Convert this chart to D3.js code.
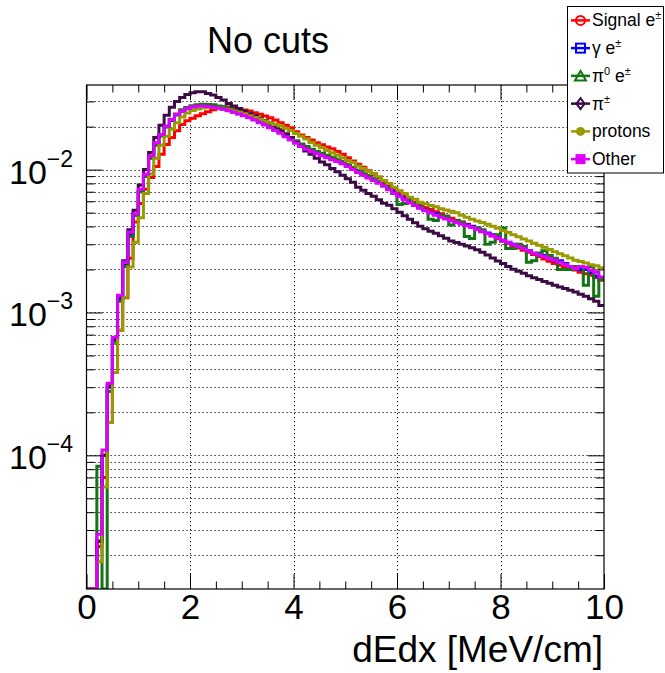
<!DOCTYPE html>
<html>
<head>
<meta charset="utf-8">
<script src="https://cdn.jsdelivr.net/npm/d3@7"></script>
<style>
  body { margin: 0; background: #fff; }
  svg { display: block; font-family: "Liberation Sans", Arial, Helvetica, sans-serif; }
</style>
</head>
<body>
<div id="board"></div>
<script>
// histogram binning: 100 bins of 0.1 MeV/cm from 0 to 10
var xMin = 0, xMax = 10, binWidth = 0.1;
var yMin = 1.16e-5, yMax = 0.0391;

var xMajor = [0, 2, 4, 6, 8, 10];
var xGrid = [2, 4, 6, 8];
var yMajor = [1e-2, 1e-3, 1e-4];
var yExponents = ["\u22122", "\u22123", "\u22124"];

// values, one per bin
var signal = [0, 0, 2.3e-5, 7e-5, 1.7e-4, 3.8e-4, 7.5e-4, 1.27e-3, 2.4e-3, 4.3e-3,
  5.8e-3, 7.3e-3, 8.8e-3, 0.0105, 0.0128, 0.0150, 0.0168, 0.0187, 0.0207, 0.0220,
  0.0229, 0.0238, 0.0246, 0.0254, 0.0262, 0.0270, 0.0273, 0.0274, 0.0271, 0.0265,
  0.0261, 0.0257, 0.0250, 0.0244, 0.0237, 0.0231, 0.0222, 0.0213, 0.0204, 0.0196,
  0.0184, 0.0175, 0.0168, 0.0161, 0.0154, 0.0149, 0.0144, 0.0140, 0.0134, 0.0128,
  0.0121, 0.0115, 0.0109, 0.0104, 0.0098, 0.00927, 0.00876, 0.00822, 0.00769, 0.00722,
  0.00683, 0.00648, 0.00615, 0.00586, 0.00563, 0.00543, 0.00525, 0.00507, 0.00490, 0.00473,
  0.00457, 0.00442, 0.00428, 0.00414, 0.00401, 0.00386, 0.00370, 0.00357, 0.00343, 0.00328,
  0.00315, 0.00305, 0.00294, 0.00284, 0.00273, 0.00264, 0.00255, 0.00246, 0.00237, 0.00228,
  0.00220, 0.00214, 0.00208, 0.00202, 0.00198, 0.00191, 0.00187, 0.00182, 0.00176, 0.00168];

var gammaE = [0, 0, 2.5e-5, 1.0e-4, 3.0e-4, 6.4e-4, 1.25e-3, 2.15e-3, 3.5e-3, 4.8e-3,
  7.0e-3, 9.0e-3, 0.0121, 0.0150, 0.0173, 0.0199, 0.0221, 0.0241, 0.0256, 0.0267,
  0.0274, 0.0278, 0.0280, 0.0278, 0.0275, 0.0271, 0.0266, 0.0260, 0.0253, 0.0246,
  0.0239, 0.0232, 0.0224, 0.0216, 0.0208, 0.0199, 0.0191, 0.0182, 0.0173, 0.0164,
  0.0156, 0.0148, 0.0142, 0.0137, 0.0132, 0.0128, 0.0124, 0.0120, 0.0116, 0.0112,
  0.0107, 0.0102, 0.0098, 0.0094, 0.0090, 0.0086, 0.0082, 0.0078, 0.0074, 0.0070,
  0.0066, 0.0063, 0.0060, 0.0057, 0.0054, 0.0052, 0.0050, 0.0049, 0.0047, 0.0046,
  0.0044, 0.0043, 0.0042, 0.0041, 0.0040, 0.0039, 0.0037, 0.0036, 0.0035, 0.0034,
  0.0032, 0.0031, 0.0030, 0.0029, 0.0028, 0.0027, 0.0026, 0.0026, 0.0025, 0.0024,
  0.0023, 0.0023, 0.0022, 0.0021, 0.0021, 0.0020, 0.0020, 0.0019, 0.0018, 0.0017];

var pi0E = [0, 0, 8.4e-5, 0, 2.8e-4, 6.2e-4, 1.2e-3, 2.1e-3, 3.4e-3, 4.8e-3,
  7.0e-3, 9.0e-3, 0.0120, 0.0148, 0.0172, 0.0200, 0.0225, 0.0245, 0.0262, 0.0272,
  0.0280, 0.0284, 0.0287, 0.0286, 0.0284, 0.0279, 0.0275, 0.0268, 0.0262, 0.0256,
  0.0249, 0.0240, 0.0232, 0.0223, 0.0214, 0.0203, 0.0195, 0.0188, 0.0177, 0.0168,
  0.0159, 0.0151, 0.0145, 0.0139, 0.0134, 0.0130, 0.0126, 0.0122, 0.0118, 0.0114,
  0.0109, 0.0104, 0.0099, 0.0095, 0.0091, 0.0087, 0.0083, 0.0079, 0.0075, 0.0068,
  0.0057, 0.0058, 0.0062, 0.0058, 0.0055, 0.0052, 0.0045, 0.0044, 0.0048, 0.0047,
  0.0041, 0.0044, 0.0043, 0.0034, 0.0033, 0.0039, 0.0038, 0.0030, 0.0031, 0.0035,
  0.0039, 0.0028, 0.0028, 0.0030, 0.0029, 0.00225, 0.00230, 0.0026, 0.0027, 0.0025,
  0.0024, 0.0020, 0.0020, 0.0020, 0.0021, 0.0021, 0.00155, 0.0021, 0.0013, 0.0017];

var piCharged = [0, 0, 2.5e-5, 1.0e-4, 3.1e-4, 6.6e-4, 1.3e-3, 2.3e-3, 3.8e-3, 5.2e-3,
  7.8e-3, 0.0100, 0.0132, 0.0168, 0.0204, 0.0240, 0.0273, 0.0300, 0.0320, 0.0336,
  0.0345, 0.0350, 0.0350, 0.0341, 0.0333, 0.0320, 0.0307, 0.0290, 0.0279, 0.0268,
  0.0256, 0.0246, 0.0238, 0.0230, 0.0221, 0.0213, 0.0201, 0.0190, 0.0178, 0.0167,
  0.0155, 0.0145, 0.0135, 0.0128, 0.0120, 0.0113, 0.0108, 0.0102, 0.00965, 0.00912,
  0.00862, 0.00815, 0.00752, 0.00717, 0.00680, 0.00650, 0.00615, 0.00582, 0.00563, 0.00532,
  0.00503, 0.00475, 0.00449, 0.00424, 0.00401, 0.00385, 0.00371, 0.00358, 0.00345, 0.00331,
  0.00317, 0.00309, 0.00300, 0.00292, 0.00284, 0.00275, 0.00264, 0.00253, 0.00241, 0.00229,
  0.00220, 0.00210, 0.00201, 0.00194, 0.00188, 0.00181, 0.00175, 0.00170, 0.00165, 0.00160,
  0.00155, 0.00151, 0.00147, 0.00143, 0.00139, 0.00134, 0.00130, 0.00125, 0.00120, 0.00112];

var protons = [0, 0, 1.8e-5, 6e-5, 1.7e-4, 3.8e-4, 7.5e-4, 1.28e-3, 2.08e-3, 3.1e-3,
  4.6e-3, 6.8e-3, 9.3e-3, 0.0120, 0.0148, 0.0171, 0.0192, 0.0213, 0.0233, 0.0249,
  0.0259, 0.0266, 0.0270, 0.0272, 0.0272, 0.0270, 0.0266, 0.0262, 0.0257, 0.0252,
  0.0246, 0.0238, 0.0232, 0.0226, 0.0219, 0.0213, 0.0207, 0.0202, 0.0195, 0.0187,
  0.0179, 0.0171, 0.0164, 0.0155, 0.0148, 0.0142, 0.0136, 0.0131, 0.0126, 0.0121,
  0.0116, 0.0112, 0.0106, 0.0102, 0.0097, 0.0094, 0.0089, 0.0084, 0.0080, 0.0075,
  0.0071, 0.0068, 0.0064, 0.0062, 0.0059, 0.0058, 0.0056, 0.0055, 0.00532, 0.00522,
  0.00511, 0.00499, 0.00479, 0.00464, 0.00449, 0.00437, 0.00426, 0.00415, 0.00401, 0.00389,
  0.00375, 0.00363, 0.00350, 0.00339, 0.00327, 0.00316, 0.00305, 0.00296, 0.00286, 0.00276,
  0.00266, 0.00258, 0.00249, 0.00241, 0.00232, 0.00227, 0.00222, 0.00216, 0.00212, 0.00206];

var other = [0, 0, 2.8e-5, 1.09e-4, 3.2e-4, 6.7e-4, 1.32e-3, 2.26e-3, 3.66e-3, 4.9e-3,
  7.3e-3, 9.3e-3, 0.0125, 0.0154, 0.0176, 0.0202, 0.0224, 0.0243, 0.0257, 0.0268,
  0.0275, 0.0278, 0.0279, 0.0276, 0.0273, 0.0270, 0.0264, 0.0258, 0.0252, 0.0245,
  0.0238, 0.0231, 0.0222, 0.0213, 0.0205, 0.0196, 0.0188, 0.0180, 0.0170, 0.0161,
  0.0153, 0.0145, 0.0139, 0.0134, 0.0129, 0.0125, 0.0121, 0.0117, 0.0114, 0.0110,
  0.0105, 0.0100, 0.00954, 0.00912, 0.00875, 0.00839, 0.00804, 0.00764, 0.00722, 0.00683,
  0.00647, 0.00615, 0.00586, 0.00560, 0.00537, 0.00516, 0.00497, 0.00479, 0.00464, 0.00451,
  0.00439, 0.00427, 0.00415, 0.00405, 0.00393, 0.00381, 0.00367, 0.00355, 0.00344, 0.00333,
  0.00320, 0.00309, 0.00298, 0.00289, 0.00280, 0.00269, 0.00260, 0.00253, 0.00246, 0.00239,
  0.00232, 0.00225, 0.00217, 0.00210, 0.00203, 0.00210, 0.00207, 0.00198, 0.00191, 0.00177];

// drawing order as in the original (last one on top)
var series = [
  {values: signal,    color: "#ff0000", marker: "circle",   label: [["Signal e", 0], ["\u00b1", 1]]},
  {values: gammaE,    color: "#0000ff", marker: "square",   label: [["\u03b3 e", 0], ["\u00b1", 1]]},
  {values: pi0E,      color: "#137513", marker: "triangle", label: [["\u03c0", 0], ["0", 1], [" e", 0], ["\u00b1", 1]]},
  {values: piCharged, color: "#3b0b45", marker: "diamond",  label: [["\u03c0", 0], ["\u00b1", 1]]},
  {values: protons,   color: "#999900", marker: "dot",      label: [["protons", 0]]},
  {values: other,     color: "#dd00ff", marker: "box",      label: [["Other", 0]]}
];

var W = 665, H = 673;
var plotL = 86.5, plotR = 604, plotT = 85, plotB = 589;

var svg = d3.select("#board").append("svg")
    .attr("width", W)
    .attr("height", H);

var x = d3.scaleLinear().domain([xMin, xMax]).range([plotL, plotR]);
var y = d3.scaleLog().domain([yMin, yMax]).range([plotB, plotT]);

// minor ticks
var xMinor = d3.range(xMin, xMax + 0.001, 0.5).filter(function(d){ return xMajor.indexOf(d) < 0; });
var yMinor = [];
[1e-5, 1e-4, 1e-3, 1e-2].forEach(function(dec){
    for (var m = 2; m <= 9; m++) {
        var v = m * dec;
        if (v > yMin && v < yMax) yMinor.push(v);
    }
});

// grid
var grid = svg.append("g")
    .attr("stroke", "#000")
    .attr("stroke-width", 1)
    .attr("stroke-dasharray", "1.2,2.8");

grid.selectAll(".gy").data(yMajor.concat(yMinor)).enter().append("line")
    .attr("x1", plotL).attr("x2", plotR)
    .attr("y1", function(d){ return Math.round(y(d)) + 0.5; })
    .attr("y2", function(d){ return Math.round(y(d)) + 0.5; });

grid.selectAll(".gx").data(xGrid).enter().append("line")
    .attr("y1", plotT).attr("y2", plotB)
    .attr("x1", function(d){ return Math.round(x(d)) + 0.5; })
    .attr("x2", function(d){ return Math.round(x(d)) + 0.5; });

// histograms
svg.append("clipPath").attr("id", "plotclip")
  .append("rect")
    .attr("x", plotL).attr("y", plotT)
    .attr("width", plotR - plotL).attr("height", plotB - plotT);

var step = d3.line()
    .x(function(d){ return x(d[0]); })
    .y(function(d){ return y(Math.max(d[1], yMin)); })
    .curve(d3.curveStepAfter);

var hists = svg.append("g").attr("clip-path", "url(#plotclip)");
series.forEach(function(s){
    var pts = s.values.map(function(v, i){ return [xMin + i * binWidth, v]; });
    pts.push([xMax, s.values[s.values.length - 1]]);
    hists.append("path")
        .attr("d", step(pts))
        .attr("fill", "none")
        .attr("stroke", s.color)
        .attr("stroke-width", 3)
        .attr("stroke-linejoin", "miter");
});

// axes (ticks on all four sides, pointing inward)
function styleAxis(g){
    g.select(".domain").remove();
    g.selectAll(".tick line").attr("stroke", "#000");
}

var bottomAxis = svg.append("g").attr("transform", "translate(0," + plotB + ")")
    .call(d3.axisBottom(x).tickValues(xMajor).tickSize(-15).tickPadding(5).tickFormat(d3.format("d")));
bottomAxis.call(styleAxis);
bottomAxis.selectAll("text").attr("font-size", 35).attr("fill", "#000")
    .attr("font-family", "Liberation Sans, Arial, sans-serif");
svg.append("g").attr("transform", "translate(0," + plotB + ")")
    .call(d3.axisBottom(x).tickValues(xMinor).tickSize(-7.5).tickFormat(""))
    .call(styleAxis);

svg.append("g").attr("transform", "translate(0," + plotT + ")")
    .call(d3.axisTop(x).tickValues(xMajor).tickSize(-15).tickFormat(""))
    .call(styleAxis);
svg.append("g").attr("transform", "translate(0," + plotT + ")")
    .call(d3.axisTop(x).tickValues(xMinor).tickSize(-7.5).tickFormat(""))
    .call(styleAxis);

svg.append("g").attr("transform", "translate(" + plotL + ",0)")
    .call(d3.axisLeft(y).tickValues(yMajor).tickSize(-16).tickFormat(""))
    .call(styleAxis);
svg.append("g").attr("transform", "translate(" + plotL + ",0)")
    .call(d3.axisLeft(y).tickValues(yMinor).tickSize(-8).tickFormat(""))
    .call(styleAxis);
svg.append("g").attr("transform", "translate(" + plotR + ",0)")
    .call(d3.axisRight(y).tickValues(yMajor).tickSize(-16).tickFormat(""))
    .call(styleAxis);
svg.append("g").attr("transform", "translate(" + plotR + ",0)")
    .call(d3.axisRight(y).tickValues(yMinor).tickSize(-8).tickFormat(""))
    .call(styleAxis);

// y labels 10^n
var ylab = svg.append("g").attr("fill", "#000");
yMajor.forEach(function(v, i){
    var t = ylab.append("text")
        .attr("x", 9)
        .attr("y", y(v) + 14)
        .attr("font-size", 34);
    t.append("tspan").text("10");
    t.append("tspan").attr("font-size", 23).attr("dy", -17).text(yExponents[i]);
});

// frame
svg.append("rect")
    .attr("x", plotL).attr("y", plotT)
    .attr("width", plotR - plotL).attr("height", plotB - plotT)
    .attr("fill", "none").attr("stroke", "#000").attr("stroke-width", 1.2);

// titles
svg.append("text")
    .attr("x", 268).attr("y", 53)
    .attr("text-anchor", "middle")
    .attr("font-size", 36)
    .text("No cuts");

svg.append("text")
    .attr("x", 603).attr("y", 662)
    .attr("text-anchor", "end")
    .attr("font-size", 37)
    .text("dEdx [MeV/cm]");

// legend
var lgX = 567.5, lgY = 6.5, lgW = 96, lgH = 166.5;
var rowH = lgH / series.length;
var lg = svg.append("g");
lg.append("rect")
    .attr("x", lgX).attr("y", lgY).attr("width", lgW).attr("height", lgH)
    .attr("fill", "#fff").attr("stroke", "#000").attr("stroke-width", 1);

series.forEach(function(s, i){
    var cy = lgY + rowH * (i + 0.5);
    var cx = 580.5;
    var row = lg.append("g");
    row.append("line")
        .attr("x1", 571).attr("x2", 590)
        .attr("y1", cy).attr("y2", cy)
        .attr("stroke", s.color).attr("stroke-width", 2.5);
    if (s.marker === "circle") {
        row.append("circle").attr("cx", cx).attr("cy", cy).attr("r", 4.5)
            .attr("fill", "none").attr("stroke", s.color).attr("stroke-width", 2);
    } else if (s.marker === "square") {
        row.append("rect").attr("x", cx - 4.5).attr("y", cy - 4.5).attr("width", 9).attr("height", 9)
            .attr("fill", "none").attr("stroke", s.color).attr("stroke-width", 2);
    } else if (s.marker === "triangle") {
        row.append("path").attr("d", "M" + cx + "," + (cy - 5) + "L" + (cx + 5.5) + "," + (cy + 4.5) + "L" + (cx - 5.5) + "," + (cy + 4.5) + "Z")
            .attr("fill", "none").attr("stroke", s.color).attr("stroke-width", 2);
    } else if (s.marker === "diamond") {
        row.append("path").attr("d", "M" + cx + "," + (cy - 5.5) + "L" + (cx + 4) + "," + cy + "L" + cx + "," + (cy + 5.5) + "L" + (cx - 4) + "," + cy + "Z")
            .attr("fill", "none").attr("stroke", s.color).attr("stroke-width", 2);
    } else if (s.marker === "dot") {
        row.append("circle").attr("cx", cx).attr("cy", cy).attr("r", 4.5).attr("fill", s.color);
    } else {
        row.append("rect").attr("x", cx - 5).attr("y", cy - 5).attr("width", 10).attr("height", 10).attr("fill", s.color);
    }
    var t = row.append("text")
        .attr("x", 592).attr("y", cy + 6)
        .attr("font-size", 17.5);
    s.label.forEach(function(p){
        var sp = t.append("tspan").text(p[0]);
        if (p[1]) sp.attr("font-size", 11).attr("dy", -7);
        else if (t.selectAll("tspan").size() > 1) sp.attr("dy", 7);
    });
});
</script>
</body>
</html>
